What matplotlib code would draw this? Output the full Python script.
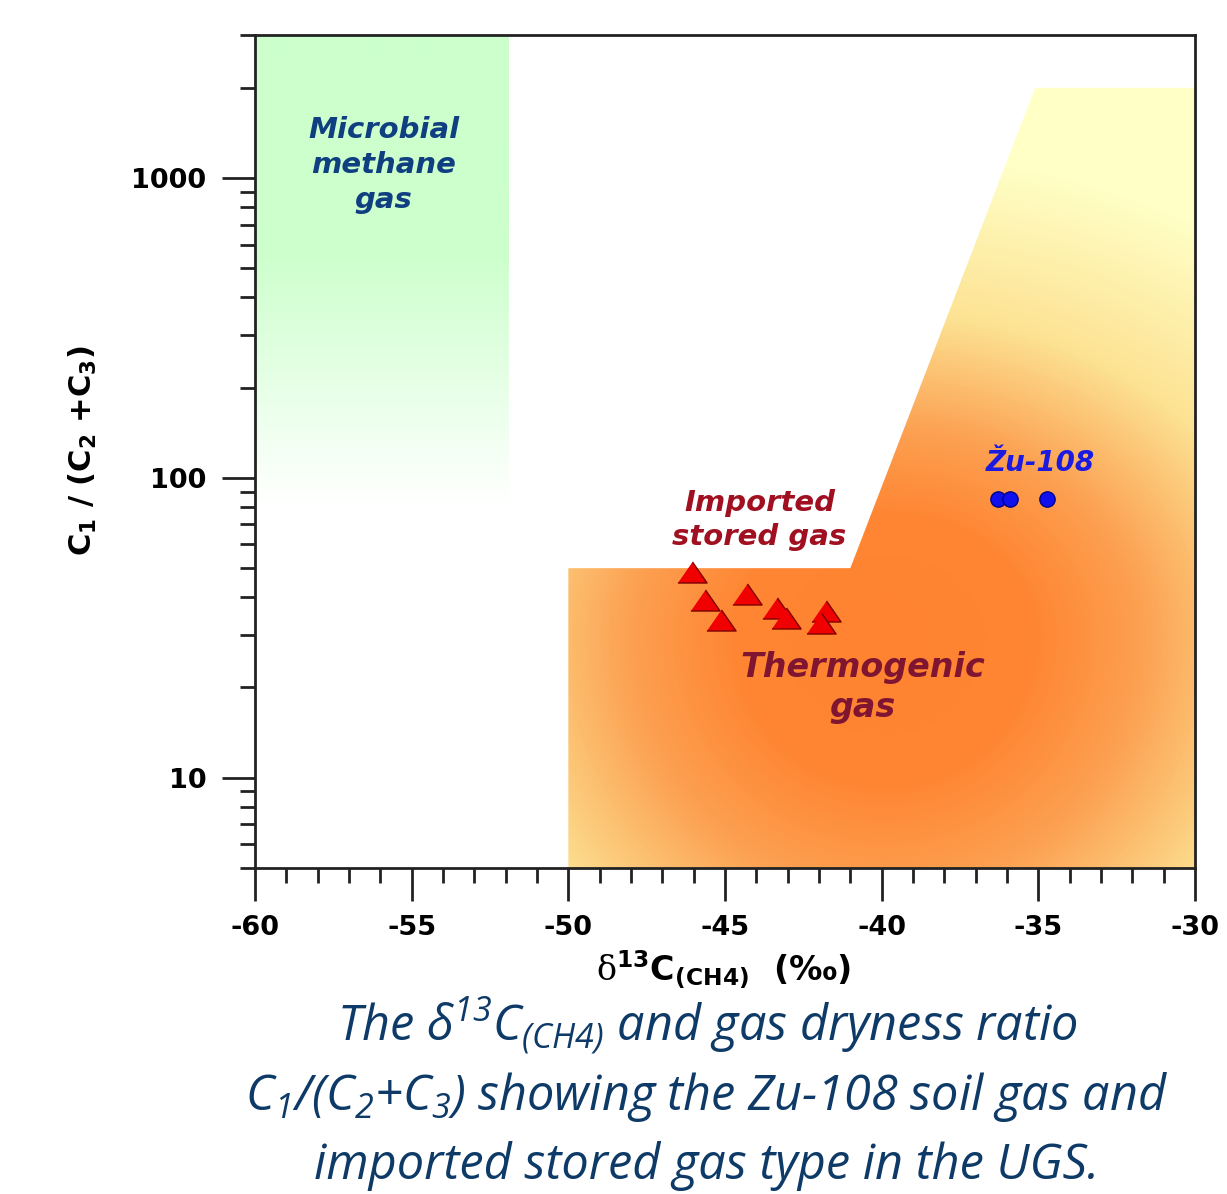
import numpy as np
import matplotlib.pyplot as plt
from matplotlib.colors import LinearSegmentedColormap
from matplotlib.patches import Polygon, Rectangle
from matplotlib.ticker import LogLocator, NullFormatter, MultipleLocator

plt.rcParams['font.family'] = 'DejaVu Sans'
# mathtext: italic/roman parts go to the caption font, bold to the axis font
plt.rcParams['mathtext.fontset'] = 'custom'
plt.rcParams['mathtext.rm'] = 'Open Sans:italic'
plt.rcParams['mathtext.it'] = 'Open Sans:italic'
plt.rcParams['mathtext.bf'] = 'DejaVu Sans:bold'
plt.rcParams['mathtext.sf'] = 'DejaVu Serif'

# imported stored gas (red triangles)
stored_d13c = [-46.05, -45.64, -45.13, -44.30, -43.34, -43.05, -41.78, -41.94]
stored_ratio = [48.6, 39.2, 33.6, 40.9, 36.7, 34.1, 36.0, 32.9]

# Zu-108 soil gas (blue dots)
zu_d13c = [-36.28, -35.90, -34.73]
zu_ratio = [85, 85, 85]

# genetic fields
microbial_x = [-60, -51.9]
microbial_y = [80, 3000]
thermo_x = [-50, -50, -41, -35.1, -30, -30]
thermo_y = [5, 50, 50, 2000, 2000, 5]

x_ticks = [-60, -55, -50, -45, -40, -35, -30]
y_ticks = [10, 100, 1000]
y_ticklabels = ['10', '100', '1000']

FW, FH = 1227, 1194
fig = plt.figure(figsize=(FW / 100, FH / 100), dpi=100)
ax = fig.add_axes([255 / FW, 1 - 868 / FH, 940 / FW, 833 / FH])
ax.set_yscale('log')
ax.set_xlim(-60, -30)
ax.set_ylim(5, 3000)
ax.set_autoscale_on(False)

# gradients are computed on the axes pixel grid
W, H = 940, 833
px, py = np.meshgrid(np.arange(W) + 0.5, np.arange(H) + 0.5)

# thermogenic field: orange core fading to pale yellow (faster upwards)
dx = px - 630
dy = py - 600
dy = np.where(dy < 0, dy * 1.25, dy)
r = np.clip(np.hypot(dx, dy) / 600, 0, 1)
orange = LinearSegmentedColormap.from_list('thermo', [
  (0.0, '#ff8330'),
  (0.25, '#ff8633'),
  (0.43, '#fca152'),
  (0.67, '#fde293'),
  (1.0, '#ffffc6')])
im = ax.imshow(r, cmap=orange, vmin=0, vmax=1, extent=(0, 1, 0, 1),
               transform=ax.transAxes, aspect='auto',
               interpolation='bilinear', zorder=0)
thermo_patch = Polygon(np.column_stack([thermo_x, thermo_y]), closed=True,
                       facecolor='none', edgecolor='none')
ax.add_patch(thermo_patch)
im.set_clip_path(thermo_patch)

# microbial field: light green fading out downwards
g = np.clip((py - 215) / (470 - 215), 0, 1)
green = LinearSegmentedColormap.from_list('micro', ['#ccffcc', '#ffffff'])
im2 = ax.imshow(g, cmap=green, vmin=0, vmax=1, extent=(0, 1, 0, 1),
                transform=ax.transAxes, aspect='auto',
                interpolation='bilinear', zorder=0)
micro_patch = Rectangle((microbial_x[0], microbial_y[0]),
                        microbial_x[1] - microbial_x[0],
                        microbial_y[1] - microbial_y[0],
                        facecolor='none', edgecolor='none')
ax.add_patch(micro_patch)
im2.set_clip_path(micro_patch)

# samples
tri = [(-1, -0.72), (1, -0.72), (0, 0.72)]
ax.plot(stored_d13c, stored_ratio, linestyle='none', marker=tri,
        markersize=21, markerfacecolor='#f00000',
        markeredgecolor='#7a0000', markeredgewidth=1, zorder=3)
ax.plot(zu_d13c, zu_ratio, linestyle='none', marker='o', markersize=11,
        markerfacecolor='#1010ee', markeredgecolor='#00008b',
        markeredgewidth=1, zorder=3)

# field names
ax.text(-55.9, 1105, 'Microbial\nmethane\ngas', ha='center', va='center',
        fontsize=21, fontweight='bold', style='italic', color='#0f3f80',
        linespacing=1.3)
ax.text(-43.9, 72.4, 'Imported\nstored gas', ha='center', va='center',
        fontsize=21, fontweight='bold', style='italic', color='#a01020',
        linespacing=1.3)
ax.text(-40.6, 20, 'Thermogenic\ngas', ha='center', va='center',
        fontsize=24, fontweight='bold', style='italic', color='#7f1530',
        linespacing=1.25)
ax.text(-34.95, 112, 'Žu-108', ha='center', va='center',
        fontsize=20, fontweight='bold', style='italic', color='#1a1ae0')

# axes decoration
for s in ax.spines.values():
  s.set_linewidth(2)
  s.set_color('#222222')
ax.set_xticks(x_ticks)
ax.set_xticklabels([str(v) for v in x_ticks])
ax.xaxis.set_minor_locator(MultipleLocator(1))
ax.set_yticks(y_ticks)
ax.set_yticklabels(y_ticklabels)
ax.yaxis.set_minor_locator(LogLocator(base=10, subs=np.arange(2, 10)))
ax.yaxis.set_minor_formatter(NullFormatter())
ax.tick_params(which='major', length=24, width=2, color='#222222',
               labelsize=19.5)
ax.tick_params(which='minor', length=11, width=2, color='#222222')
ax.tick_params(axis='x', which='major', pad=10)
ax.tick_params(axis='y', which='major', pad=11)
for lab in ax.get_xticklabels() + ax.get_yticklabels():
  lab.set_fontweight('bold')

fig.text(723 / FW, 1 - 970 / FH,
         r'$\mathsf{δ}^{\mathbf{13}}$C$_{\mathbf{(CH4)}}$  (‰)',
         ha='center', va='center', fontsize=24, fontweight='bold')
fig.text(83 / FW, 1 - 450 / FH,
         r'C$_{\mathbf{1}}$ / (C$_{\mathbf{2}}$ +C$_{\mathbf{3}}$)',
         ha='center', va='center', rotation=90, fontsize=22,
         fontweight='bold')

# caption
cap = dict(ha='center', va='baseline', fontsize=35, style='italic',
           family='Open Sans', color='#0e3a67')
fig.text(707 / FW, 1 - 1040 / FH,
         r'The δ$^{13}$C$_{(CH4)}$ and gas dryness ratio', **cap)
fig.text(707 / FW, 1 - 1110 / FH,
         r'C$_{1}$/(C$_{2}$+C$_{3}$) showing the Zu-108 soil gas and', **cap)
fig.text(707 / FW, 1 - 1179 / FH,
         'imported stored gas type in the UGS.', **cap)

fig.savefig('out.png', dpi=100)
